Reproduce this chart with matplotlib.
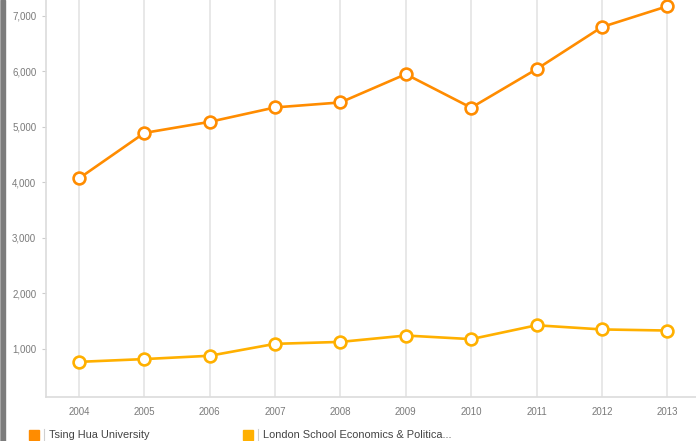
import matplotlib
matplotlib.use("Agg")
import matplotlib.pyplot as plt
from matplotlib.patches import Rectangle

plt.rcParams['font.family'] = ['Liberation Sans', 'DejaVu Sans']

years = [2004, 2005, 2006, 2007, 2008, 2009, 2010, 2011, 2012, 2013]
tsinghua = [4070, 4890, 5090, 5350, 5440, 5950, 5345, 6040, 6800, 7175]
lse = [760, 810, 870, 1085, 1120, 1235, 1170, 1420, 1345, 1325]
series_names = ['Tsing Hua University', 'London School Economics & Politica...']
colors = ['#ff8c00', '#ffb000']
yticks = [1000, 2000, 3000, 4000, 5000, 6000, 7000]

W, H = 696, 441
fig = plt.figure(figsize=(W / 100, H / 100), dpi=100)
fig.patch.set_facecolor('white')
ax = fig.add_axes([46 / W, 44 / H, 650 / W, 397 / H])

for yr in years:
    ax.axvline(yr, color='#e4e4e4', lw=1.2, zorder=0)

for vals, c in zip([tsinghua, lse], colors):
    ax.plot(years, vals, color=c, lw=1.9, marker='o', ms=8.5, mfc='white',
            mec=c, mew=1.9, clip_on=False, zorder=3)

ax.set_xlim(2003.495, 2013.44)
ax.set_ylim(126, 7288)
ax.set_xticks(years)
ax.set_xticklabels([str(y) for y in years])
ax.set_yticks(yticks)
ax.set_yticklabels([f'{v:,}' for v in yticks])
ax.tick_params(axis='x', length=0, pad=7, labelsize=7, labelcolor='#7a7a7a')
ax.tick_params(axis='y', length=3, width=0.8, color='#cccccc', pad=4,
               labelsize=7, labelcolor='#7a7a7a')
for s in ['top', 'right']:
    ax.spines[s].set_visible(False)
for s in ['left', 'bottom']:
    ax.spines[s].set_color('#dcdcdc')
    ax.spines[s].set_linewidth(1.2)

# legend at bottom
leg_x = [29, 243]
for x0, name, c in zip(leg_x, series_names, colors):
    fig.patches.append(Rectangle((x0 / W, 1 / H), 10 / W, 10 / H, color=c,
                                 transform=fig.transFigure, figure=fig))
    fig.add_artist(plt.Line2D([(x0 + 15) / W] * 2, [0, 12 / H],
                              color='#d0d0d0', lw=0.8))
    fig.text((x0 + 20) / W, 6 / H, name, fontsize=7.9, color='#444444',
             va='center', ha='left')

# dark frame strip on the left edge
fig.patches.append(Rectangle((0, 0), 1 / W, 1, color='#b0b0b0',
                             transform=fig.transFigure, figure=fig))
fig.patches.append(Rectangle((1 / W, 0), 4 / W, 1, color='#7c7c7c',
                             transform=fig.transFigure, figure=fig))

fig.savefig('out.png', dpi=100)
